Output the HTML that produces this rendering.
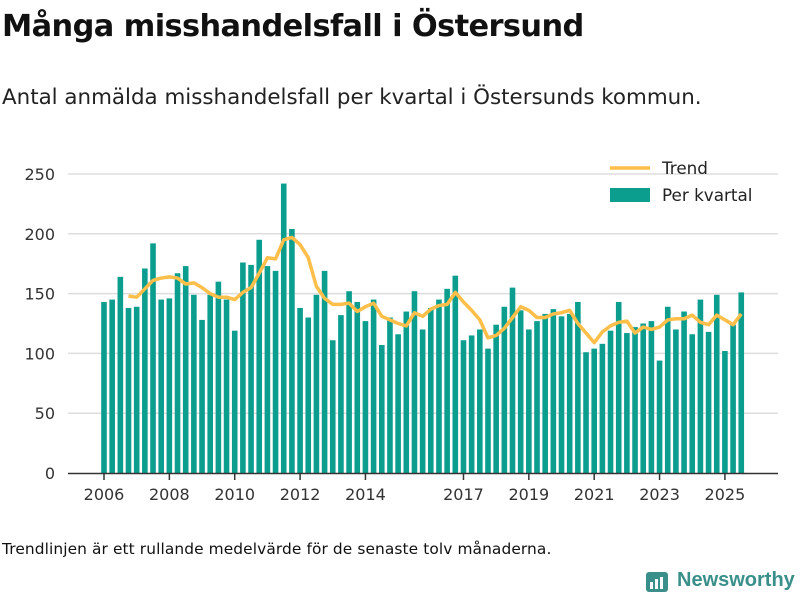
<!DOCTYPE html>
<html><head><meta charset="utf-8">
<style>
body{margin:0;width:800px;height:600px;background:#fff;font-family:"Liberation Sans","DejaVu Sans",sans-serif;overflow:hidden;position:relative}
#title{position:absolute;left:2px;top:9px;font-size:30.4px;font-weight:bold;color:#111;font-family:"DejaVu Sans","Liberation Sans",sans-serif;letter-spacing:-0.6px}
#sub{position:absolute;left:2px;top:85px;font-size:21.4px;color:#222;font-family:"DejaVu Sans","Liberation Sans",sans-serif}
#foot{position:absolute;left:2px;top:540px;font-size:15.4px;color:#111;font-family:"DejaVu Sans","Liberation Sans",sans-serif;letter-spacing:0.1px}
#logo{position:absolute;left:645px;top:569px;font-size:20px;font-weight:bold;color:#3a8f8a;font-family:"Liberation Sans","DejaVu Sans",sans-serif}
svg{position:absolute;left:0;top:0}
</style></head><body>
<div id="title">Många misshandelsfall i Östersund</div>
<div id="sub">Antal anmälda misshandelsfall per kvartal i Östersunds kommun.</div>
<svg id="chart" width="800" height="600"></svg>
<div id="foot">Trendlinjen är ett rullande medelvärde för de senaste tolv månaderna.</div>
<div id="logo"><svg width="24" height="26" style="position:absolute;left:0;top:0"><rect x="1" y="3" width="22" height="20" rx="3" fill="#3a8f8a"/><rect x="5" y="13" width="3" height="7" fill="#fff"/><rect x="10" y="10" width="3" height="10" fill="#fff"/><rect x="15" y="8" width="3" height="12" fill="#fff"/></svg><span style="margin-left:32px">Newsworthy</span></div>
<script>
const values=[143,145,164,138,139,171,192,145,146,167,173,149,128,149,160,145,119,176,174,195,173,169,242,204,138,130,149,169,111,132,152,143,127,145,107,130,116,135,152,120,138,145,154,165,111,115,120,104,124,139,155,136,120,127,133,137,131,133,143,101,104,108,119,143,117,122,125,127,94,139,120,135,116,145,118,149,102,124,151];
const trend=[null,null,null,148,147,154,161,163,164,163,158,159,155,150,147,147,145,151,155,167,180,179,195,197,191,180,156,146,141,141,142,135,139,142,131,128,125,123,134,131,137,140,141,151,143,136,128,113,115,121,130,139,136,130,130,133,134,136,125,117,109,118,123,126,127,117,122,120,122,128,129,129,132,126,124,132,128,124,133];
const tickYears=["2006","2008","2010","2012","2014","2017","2019","2021","2023","2025"];
const tickIdx=[0,8,16,24,32,44,52,60,68,76];
const yTicks=[0,50,100,150,200,250];
const NS="http://www.w3.org/2000/svg";
const svg=document.getElementById('chart');
const x=i=>104+i*8.17;
const y=v=>473-v*1.196;
function mk(t,a){const e=document.createElementNS(NS,t);for(const k in a)e.setAttribute(k,a[k]);svg.appendChild(e);return e;}
yTicks.forEach(v=>{
 if(v>0){const g=mk('line',{x1:68,x2:778,y1:y(v),y2:y(v),stroke:'#ddd','stroke-width':1.5});
 
 }
 const t=mk('text',{x:55,y:y(v)+6,'text-anchor':'end','font-size':16,fill:'#333','font-family':'DejaVu Sans,Liberation Sans,sans-serif'});
 t.textContent=v;
 
 
});
values.forEach((v,i)=>{
 const r=mk('rect',{x:x(i)-2.8,y:y(v),width:5.6,height:v*1.196,fill:'#0b9e8f'});
 
 
});
let d='';trend.forEach((v,i)=>{if(v!=null)d+=(d?'L':'M')+x(i)+','+y(v);});
const tl=mk('path',{d:d,fill:'none',stroke:'#fdbf4a','stroke-width':3.5,'stroke-linejoin':'round'});


const ax=mk('line',{x1:68,x2:778,y1:473.5,y2:473.5,stroke:'#333','stroke-width':1.5});


tickIdx.forEach((ix,k)=>{
 const tk=mk('line',{x1:x(ix),x2:x(ix),y1:473,y2:480,stroke:'#333','stroke-width':1.5});
 
 
 const t=mk('text',{x:x(ix),y:500,'text-anchor':'middle','font-size':16,fill:'#333','font-family':'DejaVu Sans,Liberation Sans,sans-serif'});
 t.textContent=tickYears[k];
 
 
});
const l1=mk('line',{x1:610,x2:650,y1:168,y2:168,stroke:'#fdbf4a','stroke-width':3.5});


const t1=mk('text',{x:662,y:174,'font-size':16.8,fill:'#222','font-family':'DejaVu Sans,Liberation Sans,sans-serif'});t1.textContent='Trend';


const l2=mk('rect',{x:610,y:188,width:40,height:14,fill:'#0b9e8f'});


const t2=mk('text',{x:662,y:201,'font-size':16.8,fill:'#222','font-family':'DejaVu Sans,Liberation Sans,sans-serif'});t2.textContent='Per kvartal';


</script>
</body></html>
